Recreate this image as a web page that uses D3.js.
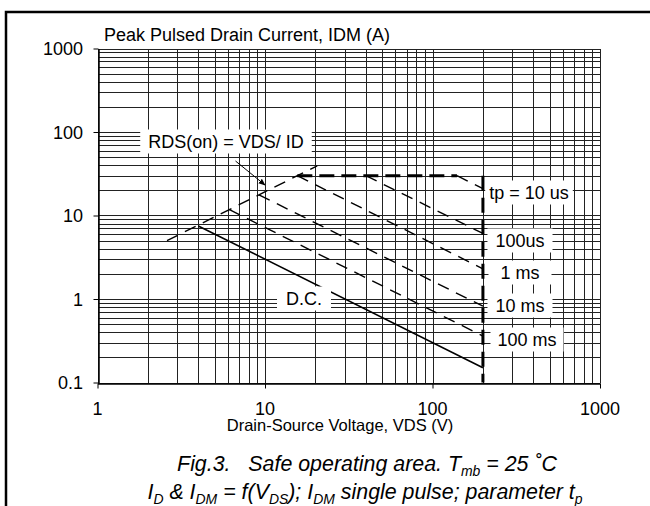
<!DOCTYPE html>
<html lang="en">
<head>
  <meta charset="UTF-8">
  <title>Safe operating area</title>
  <script src="https://d3js.org/d3.v7.min.js"></script>
  <style>
    html, body { margin: 0; overflow: hidden; background: #fff; font-family: Arial, "Liberation Sans", sans-serif; }
    svg { display: block; }
    .grid line { stroke: #222; stroke-width: 1; shape-rendering: crispEdges; }
    .lbl { font-size: 18px; fill: #000; }
    .cap { font-size: 23px; font-style: italic; fill: #000; }
  </style>
</head>
<body>
  <svg id="chart" width="650" height="506"></svg>
  <script>
    // axis ticks
    const xTicks = [1, 10, 100, 1000];
    const xTickLabels = ["1", "10", "100", "1000"];
    const yTicks = [0.1, 1, 10, 100, 1000];
    const yTickLabels = ["0.1", "1", "10", "100", "1000"];

    // curves: [VDS (V), ID (A)]
    const rdsOn = [[2.6, 5.0], [20.5, 39.4]];
    const dc = [[4, 7.5], [200, 0.15]];
    const ms100 = [[6.1, 11.8], [200, 0.36]];
    const ms10 = [[9.2, 17.7], [200, 0.82]];
    const ms1 = [[15.6, 30], [200, 2.3]];
    const us100 = [[40, 30], [200, 6.1]];
    const us10 = [[140, 30], [200, 21]];
    const currentLimit = [[15.6, 30], [140, 30]];
    const voltageLimit = [[200, 30], [200, 0.1]];

    const svg = d3.select("#chart");

    // page frame
    svg.append("path")
      .attr("d", "M6,520 L6,12 L660,12")
      .attr("fill", "none")
      .attr("stroke", "#000")
      .attr("stroke-width", 2.5);

    const x = d3.scaleLog().domain([1, 1000]).range([97.5, 600]);
    const y = d3.scaleLog().domain([0.1, 1000]).range([382.5, 48.5]);

    // log grid
    const minor = [];
    for (let d = 0.1; d < 1000; d *= 10) {
      for (let k = 1; k < 10; k++) minor.push(+(d * k).toPrecision(3));
    }
    minor.push(1000);
    const xMinor = minor.filter(v => v >= 1);

    const grid = svg.append("g").attr("class", "grid");
    grid.selectAll(".gx").data(xMinor).enter().append("line")
      .attr("x1", d => Math.round(x(d)) + 0.5).attr("x2", d => Math.round(x(d)) + 0.5)
      .attr("y1", y(1000)).attr("y2", y(0.1));
    grid.selectAll(".gy").data(minor).enter().append("line")
      .attr("x1", x(1)).attr("x2", x(1000))
      .attr("y1", d => Math.round(y(d)) + 0.5).attr("y2", d => Math.round(y(d)) + 0.5);

    // axes
    svg.append("g")
      .attr("transform", `translate(0,${Math.round(y(0.1)) + 0.5})`)
      .call(d3.axisBottom(x).tickValues(xTicks).tickFormat(() => "").tickSize(5).tickSizeOuter(0))
      .call(g => g.select(".domain").attr("stroke-width", 1.5));
    svg.append("g")
      .attr("transform", `translate(${Math.round(x(1)) + 0.5},0)`)
      .call(d3.axisLeft(y).tickValues(yTicks).tickFormat(() => "").tickSize(5).tickSizeOuter(0))
      .call(g => g.select(".domain").attr("stroke-width", 1.5));

    svg.selectAll(".xt").data(xTicks).enter().append("text")
      .attr("class", "lbl")
      .attr("x", d => x(d)).attr("y", 415)
      .attr("text-anchor", "middle")
      .text((d, i) => xTickLabels[i]);
    svg.selectAll(".yt").data(yTicks).enter().append("text")
      .attr("class", "lbl")
      .attr("x", 83).attr("y", d => y(d) + 6.5)
      .attr("text-anchor", "end")
      .text((d, i) => yTickLabels[i]);

    svg.append("text").attr("class", "lbl")
      .attr("x", 104).attr("y", 41)
      .text("Peak Pulsed Drain Current, IDM (A)");
    svg.append("text").attr("class", "lbl")
      .attr("x", 340).attr("y", 431)
      .attr("text-anchor", "middle")
      .style("font-size", "16.5px")
      .text("Drain-Source Voltage, VDS (V)");

    const line = d3.line().x(d => x(d[0])).y(d => y(d[1]));
    const plot = svg.append("g").attr("fill", "none").attr("stroke", "#000");

    plot.append("path").datum(dc).attr("d", line).attr("stroke-width", 1.6);
    [rdsOn, ms100, ms10, ms1, us100, us10].forEach(c => {
      plot.append("path").datum(c).attr("d", line)
        .attr("stroke-width", 1.4)
        .attr("stroke-dasharray", "12,8");
    });
    [currentLimit, voltageLimit].forEach(c => {
      plot.append("path").datum(c).attr("d", line)
        .attr("stroke-width", 3)
        .attr("stroke-dasharray", "15,7");
    });

    // arrow to the RDS(on) line
    svg.append("defs").append("marker")
      .attr("id", "arr").attr("viewBox", "0 0 10 10")
      .attr("refX", 9).attr("refY", 5)
      .attr("markerWidth", 7).attr("markerHeight", 7)
      .attr("orient", "auto")
      .append("path").attr("d", "M0,1 L10,5 L0,9 Z").attr("fill", "#000");
    svg.append("line")
      .attr("x1", 235.5).attr("y1", 161)
      .attr("x2", 265).attr("y2", 185)
      .attr("stroke", "#000").attr("stroke-width", 1)
      .attr("marker-end", "url(#arr)");

    // labels with white boxes
    const notes = [
      { t: "RDS(on) = VDS/ ID", cx: 226, cy: 141, pad: 8 },
      { t: "tp = 10 us", cx: 529, cy: 192, pad: 4 },
      { t: "100us", cx: 520, cy: 240, pad: 8 },
      { t: "1 ms", cx: 520, cy: 272, pad: 12 },
      { t: "10 ms", cx: 520, cy: 305, pad: 8 },
      { t: "100 ms", cx: 527, cy: 339, pad: 7 },
      { t: "D.C.", cx: 304, cy: 298, pad: 9 }
    ];
    notes.forEach(n => {
      const g = svg.append("g");
      const txt = g.append("text").attr("class", "lbl")
        .attr("x", n.cx).attr("y", n.cy + 6.5)
        .attr("text-anchor", "middle").text(n.t);
      const b = txt.node().getBBox();
      g.insert("rect", "text")
        .attr("x", b.x - n.pad).attr("y", b.y - 2)
        .attr("width", b.width + 2 * n.pad).attr("height", b.height + 4)
        .attr("fill", "#fff");
    });

    // caption (slightly condensed like the original)
    const c1 = svg.append("g").attr("transform", "translate(367,471) scale(0.93,1)")
      .append("text").attr("class", "cap").attr("text-anchor", "middle");
    c1.append("tspan").text("Fig.3.\u00a0\u00a0\u00a0Safe operating area. T");
    c1.append("tspan").attr("font-size", "15px").attr("dy", 5).text("mb");
    c1.append("tspan").attr("dy", -5).text(" = 25 \u02daC");

    const c2 = svg.append("g").attr("transform", "translate(365,499) scale(0.93,1)")
      .append("text").attr("class", "cap").attr("text-anchor", "middle");
    const parts = [["I", 0], ["D", 1], [" & I", 0], ["DM", 1], [" = f(V", 0], ["DS", 1], ["); I", 0], ["DM", 1], [" single pulse; parameter t", 0], ["p", 1]];
    let sub = 0;
    parts.forEach(p => {
      const s = c2.append("tspan").text(p[0]);
      if (p[1]) s.attr("font-size", "15px");
      if (p[1] !== sub) { s.attr("dy", p[1] ? 5 : -5); sub = p[1]; }
    });
  </script>
</body>
</html>
